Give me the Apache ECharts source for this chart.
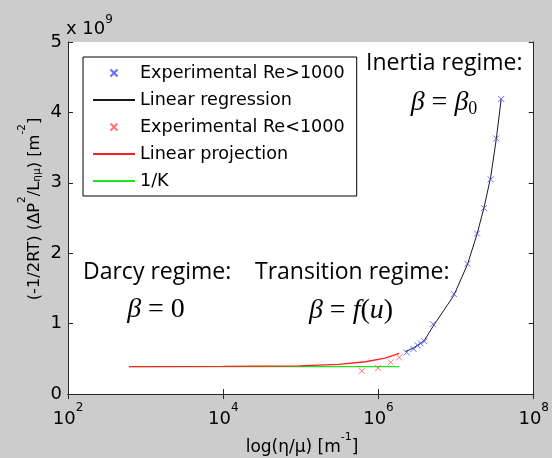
<!DOCTYPE html>
<html>
<head>
<meta charset="utf-8">
<script src="https://cdn.jsdelivr.net/npm/echarts@6/dist/echarts.min.js"></script>
<style>
  html, body { margin: 0; padding: 0; background: #cccccc; }
  #chart { width: 552px; height: 458px; }
</style>
</head>
<body>
<div id="chart"></div>
<script>
// η/μ [m^-1] and (-1/2RT)(ΔP²/Lημ) [m^-2]
const highReX = [2.31e6, 2.82e6, 3.20e6, 3.49e6, 3.90e6, 5.04e6, 9.35e6, 1.40e7, 1.86e7, 2.29e7, 2.79e7, 3.29e7, 3.81e7];
const highReY = [0.59e9, 0.64e9, 0.69e9, 0.72e9, 0.75e9, 0.99e9, 1.42e9, 1.85e9, 2.28e9, 2.64e9, 3.05e9, 3.63e9, 4.19e9];
const lowReX = [6.12e5, 9.9e5, 1.44e6, 1.85e6];
const lowReY = [0.33e9, 0.37e9, 0.45e9, 0.52e9];
const regressionX = [2.2e6, 2.82e6, 3.49e6, 3.90e6, 5.04e6, 9.35e6, 1.40e7, 1.86e7, 2.29e7, 2.79e7, 3.29e7, 3.81e7];
const regressionY = [0.60e9, 0.655e9, 0.72e9, 0.76e9, 0.96e9, 1.40e9, 1.84e9, 2.27e9, 2.65e9, 3.08e9, 3.62e9, 4.19e9];
const projectionX = [610, 1e4, 9.5e4, 3.08e5, 6.8e5, 1.22e6, 1.85e6];
const projectionY = [0.39e9, 0.391e9, 0.40e9, 0.42e9, 0.458e9, 0.51e9, 0.576e9];
const invKX = [610, 1.85e6];
const invKY = [0.39e9, 0.39e9];
const seriesNames = ['Experimental Re>1000', 'Linear regression', 'Experimental Re<1000', 'Linear projection', '1/K'];
const lineEntries = ['Linear regression', 'Linear projection', '1/K'];

const pairs = (xs, ys) => xs.map((x, i) => [x, ys[i]]);
const crossSymbol = 'path://M0,0L10,10M10,0L0,10';
const sans = 'DejaVu Sans';
const note = 'Open Sans';
const mathFont = 'Liberation Serif';
const axisColor = '#262626';

const chart = echarts.init(document.getElementById('chart'), null, { renderer: 'canvas' });

const xAxisBase = {
  type: 'log', logBase: 10, min: 1e2, max: 1e8, interval: 2,
  axisLine: { show: true, lineStyle: { color: axisColor, width: 1 } },
  axisTick: { show: true, inside: true, length: 5, lineStyle: { color: axisColor } },
  splitLine: { show: false }, minorTick: { show: false }
};
const yAxisBase = {
  type: 'value', min: 0, max: 5e9, interval: 1e9,
  axisLine: { show: true, lineStyle: { color: axisColor, width: 1 } },
  axisTick: { show: true, inside: true, length: 5, lineStyle: { color: axisColor } },
  splitLine: { show: false }
};

const mathRich = {
  i: { fontFamily: mathFont, fontStyle: 'italic', fontSize: 28, color: '#000' },
  n: { fontFamily: mathFont, fontSize: 28, color: '#000' },
  sub: { fontFamily: mathFont, fontSize: 18, color: '#000', padding: [12, 0, 0, 0] }
};

chart.setOption({
  backgroundColor: '#cccccc',
  animation: false,
  grid: { left: 68, right: 16, top: 42, bottom: 64, show: true, backgroundColor: '#ffffff', borderWidth: 0 },
  xAxis: [
    Object.assign({}, xAxisBase, {
      position: 'bottom',
      axisLabel: {
        margin: 8,
        formatter: v => '{b|10}{s|' + Math.round(Math.log10(v)) + '}',
        rich: {
          b: { fontFamily: sans, fontSize: 18, color: '#000', lineHeight: 26, verticalAlign: 'bottom' },
          s: { fontFamily: sans, fontSize: 12, color: '#000', lineHeight: 26, verticalAlign: 'top' }
        }
      }
    }),
    Object.assign({}, xAxisBase, { position: 'top', axisLabel: { show: false } })
  ],
  yAxis: [
    Object.assign({}, yAxisBase, {
      position: 'left',
      axisLabel: { margin: 6, fontFamily: sans, fontSize: 18, color: '#000', formatter: v => String(v / 1e9) }
    }),
    Object.assign({}, yAxisBase, { position: 'right', axisLabel: { show: false } })
  ],
  legend: {
    orient: 'vertical', left: 83, top: 57,
    backgroundColor: '#ffffff', borderColor: '#000000', borderWidth: 1, borderRadius: 0,
    padding: [7, 12, 6, 9],
    itemWidth: 42, itemHeight: 7, itemGap: 9,
    textStyle: { fontFamily: sans, fontSize: 17.6, color: '#000' },
    data: seriesNames.map(name => lineEntries.includes(name)
      ? { name, itemStyle: { opacity: 0 } }
      : { name })
  },
  series: [
    {
      name: seriesNames[0], type: 'scatter', data: pairs(highReX, highReY),
      symbol: crossSymbol, symbolSize: 6,
      itemStyle: { color: 'transparent', borderColor: '#4646ff', borderWidth: 1 }, z: 4
    },
    {
      name: seriesNames[1], type: 'line', data: pairs(regressionX, regressionY),
      symbol: 'none', showSymbol: false, lineStyle: { color: '#1a1a1a', width: 1 }, z: 3
    },
    {
      name: seriesNames[2], type: 'scatter', data: pairs(lowReX, lowReY),
      symbol: crossSymbol, symbolSize: 6,
      itemStyle: { color: 'transparent', borderColor: '#ff5050', borderWidth: 1 }, z: 4
    },
    {
      name: seriesNames[3], type: 'line', data: pairs(projectionX, projectionY),
      symbol: 'none', showSymbol: false, lineStyle: { color: '#ff2020', width: 1.3 }, z: 3
    },
    {
      name: seriesNames[4], type: 'line', data: pairs(invKX, invKY),
      symbol: 'none', showSymbol: false, lineStyle: { color: '#19e619', width: 1.3 }, z: 2
    }
  ],
  graphic: [
    // axis exponent
    { type: 'text', left: 66, top: 14, style: {
        text: '{b|x 10}{s|9}',
        rich: {
          b: { fontFamily: sans, fontSize: 18, fill: '#000', lineHeight: 24, verticalAlign: 'bottom' },
          s: { fontFamily: sans, fontSize: 12, fill: '#000', lineHeight: 24, verticalAlign: 'top' }
        } } },
    // x-axis title
    { type: 'text', x: 302, y: 444, style: {
        text: '{b|log(η/μ) [m}{s|-1}{b|]}', align: 'center', verticalAlign: 'middle',
        rich: {
          b: { fontFamily: sans, fontSize: 17, fill: '#000', lineHeight: 24, verticalAlign: 'bottom' },
          s: { fontFamily: sans, fontSize: 11, fill: '#000', lineHeight: 24, verticalAlign: 'top' }
        } } },
    // y-axis title
    { type: 'text', x: 30, y: 209, rotation: Math.PI / 2, style: {
        text: '{b|(-1/2RT) (ΔP}{s|2}{b|/L}{d|ημ}{b|) [m}{s|-2}{b|]}', align: 'center', verticalAlign: 'middle',
        rich: {
          b: { fontFamily: sans, fontSize: 16.3, fill: '#000', lineHeight: 26, verticalAlign: 'bottom' },
          s: { fontFamily: sans, fontSize: 10.5, fill: '#000', lineHeight: 26, verticalAlign: 'top' },
          d: { fontFamily: sans, fontSize: 10.5, fill: '#000', lineHeight: 22, verticalAlign: 'bottom' }
        } } },
    // regime notes
    { type: 'text', left: 366, top: 52, style: { text: 'Inertia regime:', fontFamily: note, fontSize: 23, fill: '#000' } },
    { type: 'text', x: 444, y: 103, style: { text: '{i|β}{n| = }{i|β}{sub|0}', align: 'center', verticalAlign: 'middle', rich: mathRich } },
    { type: 'text', left: 83, top: 261, style: { text: 'Darcy regime:', fontFamily: note, fontSize: 23, fill: '#000' } },
    { type: 'text', x: 156, y: 310, style: { text: '{i|β}{n| = 0}', align: 'center', verticalAlign: 'middle', rich: mathRich } },
    { type: 'text', left: 255, top: 261, style: { text: 'Transition regime:', fontFamily: note, fontSize: 23, fill: '#000' } },
    { type: 'text', x: 351, y: 311, style: { text: '{i|β}{n| = }{i|f}{n|(}{i|u}{n|)}', align: 'center', verticalAlign: 'middle', rich: mathRich } }
  ]
});
</script>
</body>
</html>
